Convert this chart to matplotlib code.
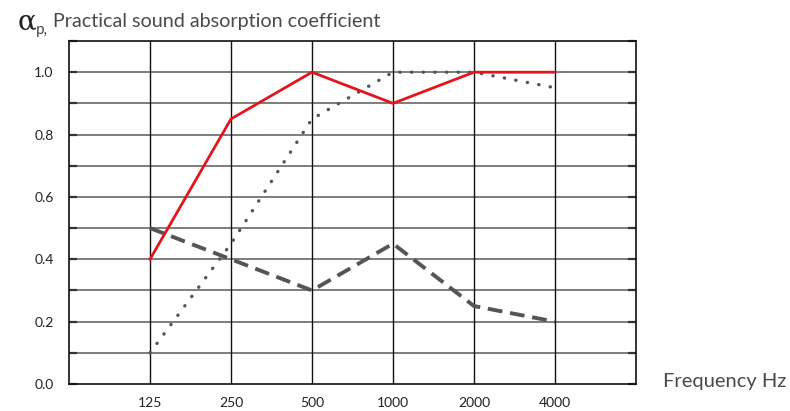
import matplotlib
matplotlib.use("Agg")
import matplotlib.pyplot as plt
from matplotlib.ticker import MultipleLocator

# Octave-band centre frequencies and the three absorption curves
freqs = ["125", "250", "500", "1000", "2000", "4000"]
alpha_red = [0.40, 0.85, 1.00, 0.90, 1.00, 1.00]
alpha_dotted = [0.10, 0.45, 0.85, 1.00, 1.00, 0.95]
alpha_dashed = [0.50, 0.40, 0.30, 0.45, 0.25, 0.20]
y_ticks = [0.0, 0.2, 0.4, 0.6, 0.8, 1.0]

FONT = ["Lato", "DejaVu Sans"]

fig = plt.figure(figsize=(7.9, 4.11), dpi=100)
ax = fig.add_axes([69 / 790, 1 - 384 / 411, (636 - 69) / 790, (384 - 41) / 411])

xpos = list(range(1, len(freqs) + 1))
ax.set_xlim(0, len(freqs) + 1)
ax.set_ylim(0, 1.1)

# grid: grey horizontals every 0.1, black verticals at each band
for v in [i / 10 for i in range(1, 11)]:
    ax.axhline(v, color="#5a5a5a", lw=1.1, zorder=1)
for x in xpos:
    ax.axvline(x, color="#111111", lw=1.0, zorder=1)

ax.plot(xpos, alpha_dotted, color="#555555", lw=2.4, linestyle=(0, (0.1, 3.4)),
        dash_capstyle="round", zorder=3)
ax.plot(xpos, alpha_dashed, color="#555555", lw=2.8, linestyle=(0, (3.8, 2)), zorder=3)
ax.plot(xpos, alpha_red, color="#e3141b", lw=2.0, zorder=4)

for s in ax.spines.values():
    s.set_color("#111111")
    s.set_linewidth(1.2)

tick_font = dict(family=FONT, size=10, color="#222222")
ax.set_xticks(xpos)
ax.set_xticklabels(freqs, **tick_font)
ax.set_yticks(y_ticks)
ax.set_yticklabels([f"{v:.1f}" for v in y_ticks], **tick_font)
ax.yaxis.set_minor_locator(MultipleLocator(0.1))
ax.tick_params(axis="x", length=0, pad=9)
ax.tick_params(axis="y", which="both", direction="in", length=6, width=1.6,
               color="#333333", left=True, right=True, pad=11)

fig.text(18 / 790, 1 - 22 / 411, "α", fontsize=20, color="#222222",
         va="center", ha="left", family="DejaVu Serif")
fig.text(36 / 790, 1 - 30 / 411, "p,", fontsize=11, color="#444444",
         va="center", ha="left", family=FONT)
fig.text(53 / 790, 1 - 21 / 411, "Practical sound absorption coefficient", fontsize=14.2,
         color="#4a4a4a", va="center", ha="left", family=FONT)
fig.text(663 / 790, 1 - 381 / 411, "Frequency Hz", fontsize=14.5, color="#4a4a4a",
         va="center", ha="left", family=FONT)

fig.savefig("out.png", dpi=100)
